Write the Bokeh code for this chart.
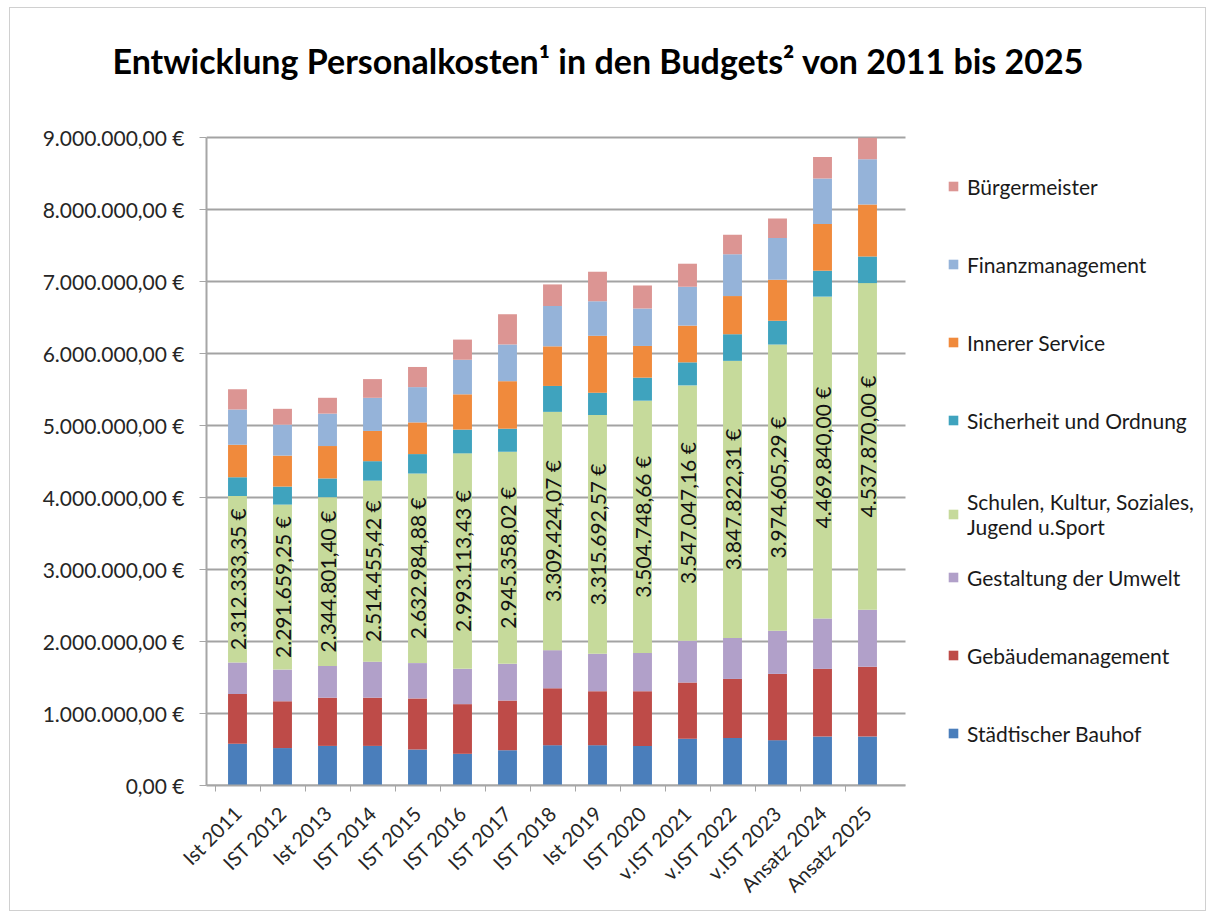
import math
from bokeh.plotting import figure
from bokeh.models import (FixedTicker, Legend, LegendItem, ColumnDataSource,
                          Range1d, Title)
from bokeh.core.properties import value
from bokeh.embed import file_html
from bokeh.resources import INLINE

# ---------------- data ----------------
categories = ["Ist 2011", "IST 2012", "Ist 2013", "IST 2014", "IST 2015",
              "IST 2016", "IST 2017", "IST 2018", "Ist 2019", "IST 2020",
              "v.IST 2021", "v.IST 2022", "v.IST 2023", "Ansatz 2024", "Ansatz 2025"]

series_names = ["Städtischer Bauhof", "Gebäudemanagement", "Gestaltung der Umwelt",
                "Schulen, Kultur, Soziales,\nJugend u.Sport", "Sicherheit und Ordnung",
                "Innerer Service", "Finanzmanagement", "Bürgermeister"]

bauhof = [580000, 520000, 550000, 550000, 500000, 440000, 490000, 560000,
          560000, 550000, 650000, 660000, 630000, 680000, 680000]
gebaeude = [690000, 650000, 670000, 670000, 710000, 690000, 690000, 790000,
            750000, 760000, 780000, 820000, 920000, 940000, 970000]
umwelt = [440000, 440000, 440000, 500000, 490000, 490000, 510000, 530000,
          520000, 530000, 580000, 570000, 600000, 700000, 790000]
schulen = [2312333.35, 2291659.25, 2344801.40, 2514455.42, 2632984.88,
           2993113.43, 2945358.02, 3309424.07, 3315692.57, 3504748.66,
           3547047.16, 3847822.31, 3974605.29, 4469840.00, 4537870.00]
sicherheit = [260000, 250000, 260000, 270000, 270000, 330000, 320000, 360000,
              310000, 320000, 320000, 370000, 330000, 360000, 370000]
innerer = [450000, 430000, 450000, 420000, 440000, 490000, 660000, 550000,
           790000, 440000, 510000, 530000, 570000, 650000, 720000]
finanz = [490000, 430000, 450000, 460000, 490000, 480000, 510000, 560000,
          480000, 520000, 540000, 580000, 580000, 630000, 630000]
buerger = [280000, 220000, 220000, 260000, 280000, 280000, 420000, 300000,
           410000, 320000, 320000, 270000, 270000, 300000, 300000]

y_ticks = [0, 1000000, 2000000, 3000000, 4000000, 5000000, 6000000,
           7000000, 8000000, 9000000]

colors = ["#4a7ebb", "#be4b48", "#b1a0c9", "#c6da9b", "#3fa3be",
          "#f08a3c", "#95b3d9", "#dc9593"]

title_text = "Entwicklung  Personalkosten\u00b9  in den Budgets\u00b2 von 2011 bis 2025"


def de_eur(v):
    s = f"{v:,.2f}".replace(",", "X").replace(".", ",").replace("X", ".")
    return s + " \u20ac"


# ---------------- layout (pixels) ----------------
FONT = "Lato"
W, H = 1197, 904
FL, FT, FB = 196, 99, 777      # frame left / top / bottom in canvas px
PX_PER_UNIT = 45.0             # category spacing
PX_PER_EUR = 72.0 / 1e6        # vertical scale
x0 = -31 / PX_PER_UNIT
x1 = x0 + (W - FL) / PX_PER_UNIT
y1 = (FB - FT) / PX_PER_EUR
grid_x_end = x0 + (895 - FL) / PX_PER_UNIT

xs = list(range(len(categories)))
keys = ["bauhof", "gebaeude", "umwelt", "schulen", "sicherheit", "innerer",
        "finanz", "buerger"]
src = ColumnDataSource(dict(x=xs, bauhof=bauhof, gebaeude=gebaeude, umwelt=umwelt,
                            schulen=schulen, sicherheit=sicherheit, innerer=innerer,
                            finanz=finanz, buerger=buerger))

p = figure(width=W, height=H, output_backend="svg", toolbar_location=None,
           x_range=Range1d(x0, x1), y_range=Range1d(0, y1),
           min_border_left=FL, min_border_right=0,
           min_border_top=FT, min_border_bottom=H - FB)
p.styles = {"border": "1px solid #d0d0d0", "margin-left": "9px", "margin-top": "7px"}
p.outline_line_color = None
p.background_fill_color = "white"
p.border_fill_color = "white"

# title: left aligned, shifted left over the axis area
p.add_layout(Title(text=title_text, text_font=FONT, text_font_size="34px",
                   text_font_style="bold", text_color="#000000", align="left",
                   offset=-94, standoff=54), "above")

# horizontal grid lines on the back wall
n = len(y_ticks)
p.segment(x0=[x0] * n, y0=y_ticks, x1=[grid_x_end] * n, y1=y_ticks,
          line_color="#a3a3a3", line_width=2)

renderers = p.vbar_stack(keys, x="x", width=0.42, color=colors, source=src,
                         line_color=None)

# data labels in the green segment
label_y = [b + g + u + s / 2 for b, g, u, s in zip(bauhof, gebaeude, umwelt, schulen)]
label_t = [de_eur(v) for v in schulen]
p.text(x=xs, y=label_y, text=label_t, angle=math.pi / 2,
       text_align="center", text_baseline="middle",
       text_font=value(FONT), text_font_size="21px", text_color="#111111")

# axes
p.yaxis.bounds = (0, y_ticks[-1])
p.yaxis.ticker = FixedTicker(ticks=y_ticks)
p.yaxis.major_label_overrides = {t: de_eur(t) for t in y_ticks}
p.yaxis.major_label_text_font = FONT
p.yaxis.major_label_text_font_size = "21px"
p.yaxis.major_label_text_color = "#262626"
p.yaxis.axis_line_color = "#a6a6a6"
p.yaxis.axis_line_width = 2
p.yaxis.major_tick_line_color = "#a6a6a6"
p.yaxis.major_tick_out = 7
p.yaxis.major_tick_in = 0
p.yaxis.minor_tick_line_color = None
p.yaxis.major_label_standoff = 15

p.xaxis.bounds = (x0, grid_x_end)
p.xaxis.ticker = FixedTicker(ticks=xs, minor_ticks=[i + 0.5 for i in xs[:-1]] + [-0.5])
p.xaxis.major_label_overrides = {i: c for i, c in enumerate(categories)}
p.xaxis.major_label_orientation = math.pi / 4
p.xaxis.major_label_text_font = FONT
p.xaxis.major_label_text_font_size = "20px"
p.xaxis.major_label_text_color = "#262626"
p.xaxis.axis_line_color = "#a6a6a6"
p.xaxis.axis_line_width = 2
p.xaxis.major_tick_line_color = None
p.xaxis.minor_tick_line_color = "#a6a6a6"
p.xaxis.minor_tick_out = 6
p.xaxis.minor_tick_in = 0
p.xaxis.major_label_standoff = 18

p.xgrid.grid_line_color = None
p.ygrid.grid_line_color = None

# legend (top series first), split in groups to keep the reference spacing
items = [LegendItem(label=nm, renderers=[r]) for nm, r in zip(series_names, renderers)]
items = items[::-1]


def make_legend(its, loc):
    return Legend(items=its, location=loc, padding=0, margin=0, spacing=52,
                  label_height=26, glyph_height=12, glyph_width=12,
                  label_standoff=8, border_line_color=None,
                  background_fill_alpha=0, label_text_font=FONT,
                  label_text_font_size="21px", label_text_color="#1a1a1a")


p.add_layout(make_legend(items[:4], (741, 352)))
p.add_layout(make_legend(items[4:5], (741, 246)))
p.add_layout(make_legend(items[5:], (741, 39)))

open("out.html", "w").write(file_html(p, INLINE))
